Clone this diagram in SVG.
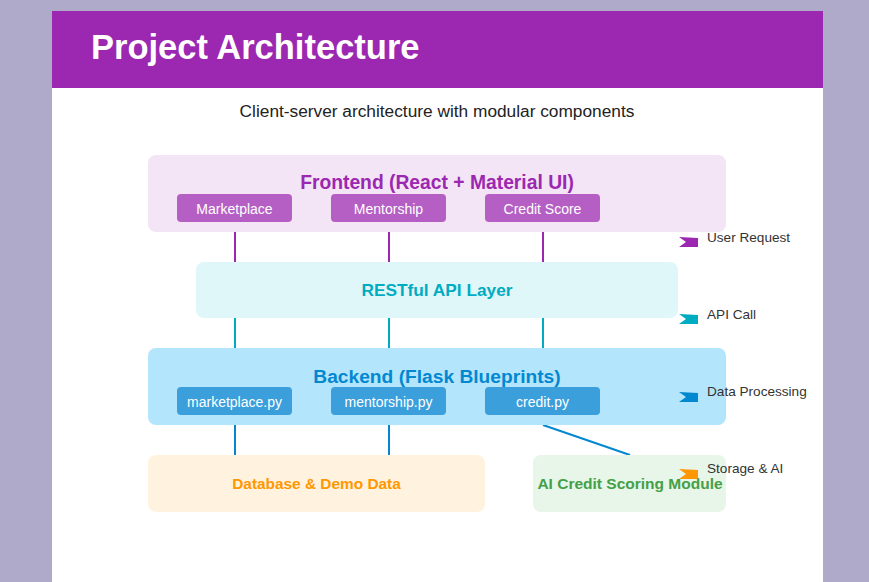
<svg xmlns="http://www.w3.org/2000/svg" width="869" height="582" viewBox="0 0 869 582">
<style>
text{font-family:"Liberation Sans",Arial,sans-serif}
.sub{fill:#fff;font-size:14px;text-anchor:middle}
.h{font-weight:bold;text-anchor:middle}
.leg{fill:#333;font-size:13.6px}
</style>
<rect x="0" y="0" width="869" height="582" fill="#b0aaca"/>
<rect x="52" y="11" width="771" height="571" fill="#fff"/>
<rect x="52" y="11" width="771" height="77" fill="#9c27b0"/>
<text x="91" y="59" fill="#fff" font-size="34.5" font-weight="bold">Project Architecture</text>
<text x="437" y="117" fill="#222" font-size="17.3" text-anchor="middle">Client-server architecture with modular components</text>

<g id="connectors" fill="none" stroke-width="2">
<g stroke="#9c27b0"><line x1="235" y1="232" x2="235" y2="262"/><line x1="389" y1="232" x2="389" y2="262"/><line x1="543" y1="232" x2="543" y2="262"/></g>
<g stroke="#00acc1"><line x1="235" y1="318" x2="235" y2="348"/><line x1="389" y1="318" x2="389" y2="348"/><line x1="543" y1="318" x2="543" y2="348"/></g>
<g stroke="#0288d1"><line x1="235" y1="425" x2="235" y2="455"/><line x1="389" y1="425" x2="389" y2="455"/><line x1="543" y1="425" x2="630" y2="455"/></g>
</g>

<g id="frontend">
<rect x="148" y="155" width="578" height="77" rx="8" fill="#f3e5f5"/>
<text x="437" y="189" class="h" fill="#9c27b0" font-size="19.3">Frontend (React + Material UI)</text>
<rect x="177" y="194" width="115" height="28" rx="4" fill="#b55fc5"/>
<text x="234.5" y="214" class="sub">Marketplace</text>
<rect x="331" y="194" width="115" height="28" rx="4" fill="#b55fc5"/>
<text x="388.5" y="214" class="sub">Mentorship</text>
<rect x="485" y="194" width="115" height="28" rx="4" fill="#b55fc5"/>
<text x="542.5" y="214" class="sub">Credit Score</text>
</g>

<g id="api">
<rect x="196" y="262" width="482" height="56" rx="8" fill="#e0f7fa"/>
<text x="437" y="296" class="h" fill="#00acc1" font-size="17.3">RESTful API Layer</text>
</g>

<g id="backend">
<rect x="148" y="348" width="578" height="77" rx="8" fill="#b3e5fc"/>
<text x="437" y="383" class="h" fill="#0288d1" font-size="19.2">Backend (Flask Blueprints)</text>
<rect x="177" y="387" width="115" height="28" rx="4" fill="#3a9fdb"/>
<text x="234.5" y="407" class="sub">marketplace.py</text>
<rect x="331" y="387" width="115" height="28" rx="4" fill="#3a9fdb"/>
<text x="388.5" y="407" class="sub">mentorship.py</text>
<rect x="485" y="387" width="115" height="28" rx="4" fill="#3a9fdb"/>
<text x="542.5" y="407" class="sub">credit.py</text>
</g>

<g id="database">
<rect x="148" y="455" width="337" height="57" rx="8" fill="#fff3e0"/>
<text x="316.5" y="489" class="h" fill="#ff9800" font-size="15.4">Database &amp; Demo Data</text>
</g>

<g id="ai">
<rect x="533" y="455" width="193" height="57" rx="8" fill="#e8f5e9"/>
<text x="630" y="489" class="h" fill="#43a047" font-size="15.5">AI Credit Scoring Module</text>
</g>

<g id="legend">
<polygon points="679,237 698,238 698,247 679,247 686,242" fill="#9c27b0"/>
<text x="707" y="242" class="leg">User Request</text>
<polygon points="679,314 698,315 698,324 679,324 686,319" fill="#00acc1"/>
<text x="707" y="319" class="leg">API Call</text>
<polygon points="679,392 698,393 698,402 679,402 686,397" fill="#0288d1"/>
<text x="707" y="396" class="leg">Data Processing</text>
<polygon points="679,469 698,470 698,479 679,479 686,474" fill="#ff9800"/>
<text x="707" y="473" class="leg">Storage &amp; AI</text>
</g>
</svg>
